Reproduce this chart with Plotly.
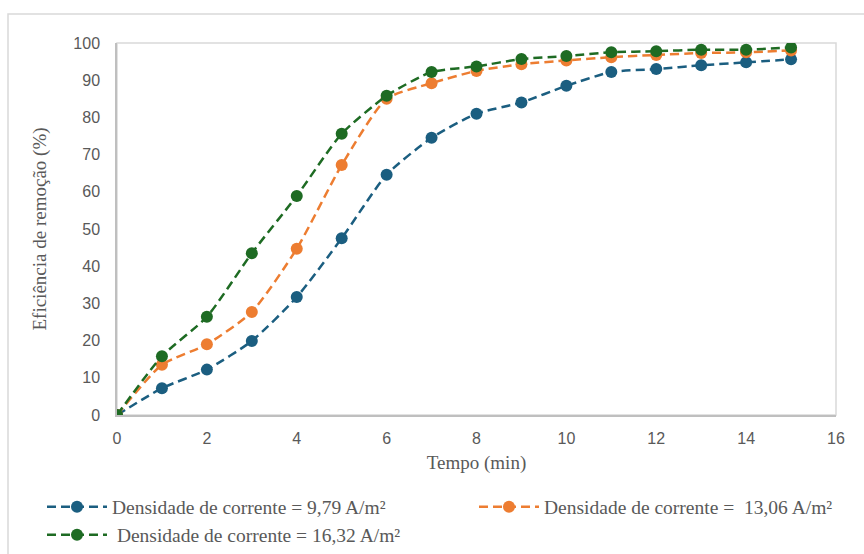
import plotly.graph_objects as go

tempo = list(range(0, 16))
serie_979 = [0, 7.2, 12.2, 19.9, 31.7, 47.5, 64.6, 74.5, 81.0, 84.0, 88.5, 92.2, 93.0, 94.0, 94.8, 95.6]
serie_1306 = [0, 13.5, 19.0, 27.7, 44.7, 67.2, 85.0, 89.2, 92.5, 94.3, 95.3, 96.2, 96.8, 97.3, 97.5, 98.0]
serie_1632 = [0, 15.8, 26.4, 43.5, 58.9, 75.6, 85.8, 92.2, 93.7, 95.7, 96.5, 97.5, 97.8, 98.2, 98.2, 98.8]

nomes = ["Densidade de corrente = 9,79 A/m²",
         "Densidade de corrente =\u00a0 13,06 A/m²",
         "\u00a0Densidade de corrente = 16,32 A/m²"]
cores = ["#1B5E80", "#ED7D31", "#1E6B23"]
series = [serie_979, serie_1306, serie_1632]
legendas = ["legend", "legend2", "legend3"]

fig = go.Figure()
for nome, cor, ys, lg in zip(nomes, cores, series, legendas):
    fig.add_trace(go.Scatter(
        x=tempo, y=ys, name=nome, mode="lines+markers", legend=lg,
        line=dict(color=cor, width=2.5, dash="9px,5px", shape="spline", smoothing=0.6),
        marker=dict(color=cor, size=12),
    ))

W, H = 864, 554
L, R, T, B = 117, 28, 43, 139
pw, ph = W - L - R, H - T - B

def px_x(x):
    return (x - L) / pw

def px_y(y):
    return (H - B - y) / ph

leg_font = dict(family="Liberation Serif", size=19.5, color="#595959")
def leg(xpix, ypix):
    return dict(orientation="h", x=px_x(xpix), y=px_y(ypix), xanchor="left", yanchor="middle",
                font=leg_font, itemwidth=60, bgcolor="rgba(0,0,0,0)", borderwidth=0)

fig.update_layout(
    width=W, height=H,
    margin=dict(l=L, r=R, t=T, b=B, autoexpand=False),
    paper_bgcolor="white", plot_bgcolor="white",
    showlegend=True,
    legend=leg(42, 507),
    legend2=leg(474, 507),
    legend3=leg(42, 535),
    xaxis=dict(
        range=[0, 16], tickvals=list(range(0, 17, 2)),
        showgrid=False, zeroline=False, showline=True, mirror=False,
        linecolor="#BFBFBF", linewidth=1.5, ticks="", ticklabelstandoff=8,
        tickfont=dict(family="Liberation Sans", size=16, color="#595959"),
        title=dict(text="Tempo (min)", font=dict(family="Liberation Serif", size=19, color="#595959"), standoff=10),
    ),
    yaxis=dict(
        range=[0, 100], tickvals=list(range(0, 101, 10)),
        showgrid=False, zeroline=False, showline=True, mirror=False,
        linecolor="#BFBFBF", linewidth=1.5, ticks="", ticklabelstandoff=12,
        tickfont=dict(family="Liberation Sans", size=16, color="#595959"),
        title=dict(text="Eficiência de remoção (%)", font=dict(family="Liberation Serif", size=19, color="#595959"), standoff=22),
    ),
)

# frame on top/right of plot area
fig.add_shape(type="rect", xref="paper", yref="paper", x0=0, x1=1, y0=0, y1=1,
              line=dict(color="#D9D9D9", width=1.5), layer="below")
# outer chart border
fig.add_shape(type="rect", xref="paper", yref="paper",
              x0=px_x(8), x1=px_x(W + 10),
              y0=px_y(H + 10), y1=px_y(14),
              line=dict(color="#D9D9D9", width=1.5), layer="below")

fig.write_html("out.html")
